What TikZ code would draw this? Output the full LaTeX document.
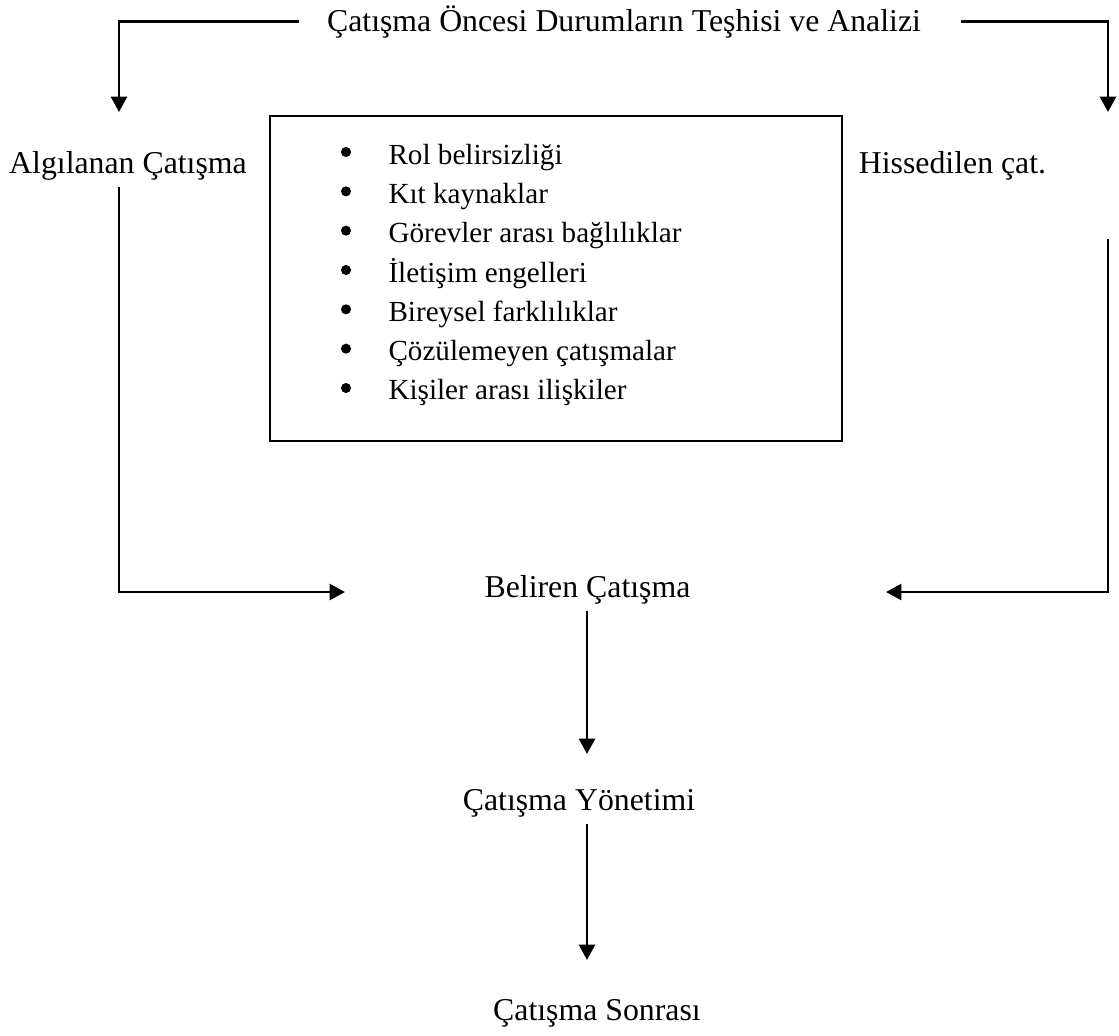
\documentclass[tikz,border=0pt]{standalone}
\usepackage{fontspec}
\setmainfont{Liberation Serif}
\usetikzlibrary{arrows.meta}
\tikzset{
  etiket/.style={anchor=base, inner sep=2.5pt, font=\fontsize{12}{14}\selectfont},
  madde/.style={anchor=base west, inner sep=0pt, font=\fontsize{11}{13}\selectfont},
  ok/.style={->, line width=1.1pt},
}
\begin{document}
\begin{tikzpicture}[x=0.3774pt, y=-0.3774pt, >={Triangle[length=5.8pt,width=6pt]}]
                \useasboundingbox (0,0) rectangle (1119,1035);
                % basliklar
                \node[etiket, inner xsep=10.5pt] (oncesi) at (624,31) {Çatışma Öncesi Durumların Teşhisi ve Analizi};
                \node[etiket] (algilanan) at (128,173) {Algılanan Çatışma};
                \node[etiket] (hissedilen) at (952.5,173) {Hissedilen çat.};
                \node[etiket] (beliren) at (587.5,597) {Beliren Çatışma};
                \node[etiket] (yonetim) at (579,810) {Çatışma Yönetimi};
                \node[etiket] (sonrasi) at (597,1020) {Çatışma Sonrası};
                % kaynaklar kutusu
                \node[draw, line width=0.7pt, minimum width=215.9pt, minimum height=122.7pt] (kutu) at (556,278.5) {};
                \foreach \metin [count=\i] in {Rol belirsizliği, Kıt kaynaklar, Görevler arası bağlılıklar,
                    İletişim engelleri, Bireysel farklılıklar, Çözülemeyen çatışmalar, Kişiler arası ilişkiler}
                {
                    \fill (346,{152+39.33*(\i-1)}) circle[radius=1.9pt];
                    \node[madde] (madde\i) at (388,{164+39.33*(\i-1)}) {\metin};
                }
                % ok uclari
                \coordinate (solok) at (119,112);
                \coordinate (sagok) at (1108,112);
                \coordinate (belsol) at (345,592);
                \coordinate (belsag) at (886,592);
                \coordinate (yonok) at (587,754);
                \coordinate (sonok) at (587,960);
                \draw [ok](oncesi.west) -| (solok);
                \draw [ok]([xshift=4.5pt]oncesi.east) -| (sagok);
                \draw [ok](algilanan.south -| solok) |- (belsol);
                \draw [ok]([yshift=-19.6pt]hissedilen.south -| sagok) |- (belsag);
                \draw [ok](beliren.south -| yonok) -- (yonok);
                \draw [ok](yonetim.south -| sonok) -- (sonok);
            \end{tikzpicture}
\end{document}
